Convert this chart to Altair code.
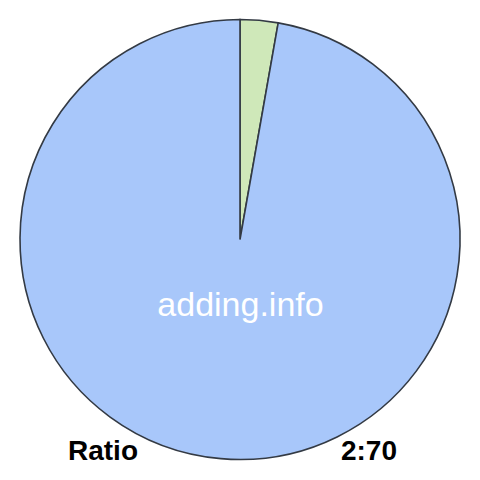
import altair as alt
import pandas as pd

labels = ["2", "70"]
values = [2, 70]
colors = ["#cfe8b9", "#a8c7fa"]
order = [0, 1]

df = pd.DataFrame({"label": labels, "value": values, "order": order})

W = 464
H = 464
cx, cy, r = 232, 231.5, 220

pie = alt.Chart(df).mark_arc(outerRadius=r, stroke="#333a44", strokeWidth=1.6).encode(
    theta=alt.Theta("value:Q", stack=True),
    order=alt.Order("order:Q"),
    color=alt.Color("label:N", scale=alt.Scale(domain=labels, range=colors), legend=None),
    x=alt.value(cx),
    y=alt.value(cy),
)

txt_df = pd.DataFrame({"t": ["adding.info"]})
center_text = alt.Chart(txt_df).mark_text(
    font="Liberation Sans", fontSize=34, color="white", align="center", baseline="alphabetic"
).encode(text="t:N", x=alt.value(232.5), y=alt.value(308))

left_df = pd.DataFrame({"t": ["Ratio"]})
left_text = alt.Chart(left_df).mark_text(
    font="Liberation Sans", fontSize=28, fontWeight="bold", color="black", align="left", baseline="alphabetic"
).encode(text="t:N", x=alt.value(60), y=alt.value(452))

right_df = pd.DataFrame({"t": [f"{values[0]}:{values[1]}"]})
right_text = alt.Chart(right_df).mark_text(
    font="Liberation Sans", fontSize=28, fontWeight="bold", color="black", align="right", baseline="alphabetic"
).encode(text="t:N", x=alt.value(389), y=alt.value(452))

chart = alt.layer(pie, center_text, left_text, right_text).properties(
    width=W, height=H, padding=0, autosize=alt.AutoSizeParams(type="none")
).configure_view(stroke=None)

chart.save("out.html", embed_options={"renderer": "svg", "actions": False})
